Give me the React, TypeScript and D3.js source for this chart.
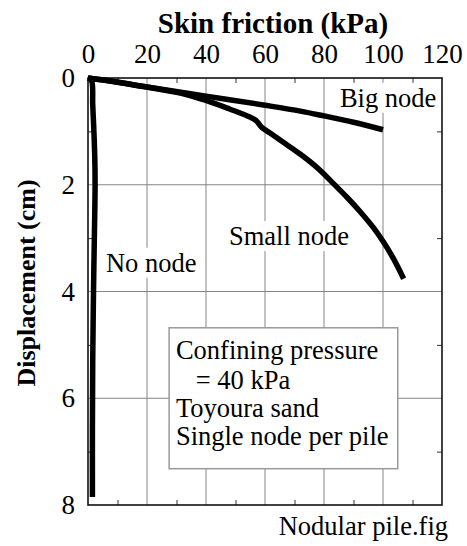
import React, { useEffect, useRef } from 'react';
import * as d3 from 'd3';

// skin friction (kPa) vs displacement (cm)
const noNodeFriction = [0, 1.2, 1.6, 2.0, 2.3, 2.4, 2.3, 2.0, 1.8, 1.6, 1.5, 1.5];
const noNodeDisp = [0, 0.05, 0.5, 1.0, 1.5, 2.0, 2.5, 3.5, 4.3, 5.3, 6.5, 7.85];

const bigNodeFriction = [0, 8, 20, 40, 60, 72, 80, 90, 100];
const bigNodeDisp = [0, 0.06, 0.17, 0.34, 0.51, 0.62, 0.71, 0.83, 0.97];

const smallNodeFriction = [0, 8, 20, 32, 40, 48, 54, 57, 59, 61.7, 67.4, 72, 76.4, 79.8, 83.2, 87.7, 92.2, 96.7, 100.1, 103.5, 107];
const smallNodeDisp = [0, 0.06, 0.17, 0.29, 0.42, 0.58, 0.71, 0.8, 0.93, 1.03, 1.25, 1.43, 1.62, 1.79, 1.98, 2.23, 2.5, 2.8, 3.07, 3.38, 3.76];

const xTicks = [0, 20, 40, 60, 80, 100, 120];
const xMinor = [10, 30, 50, 70, 90, 110];
const yTicks = [0, 2, 4, 6, 8];
const yMinor = [1, 3, 5, 7];

const curveLabels = ['Big node', 'Small node', 'No node'];
const curveLabelX = [85.4, 47.8, 6.1];
const curveLabelY = [0.54, 3.13, 3.63];

const noteLines = ['Confining pressure', '   = 40 kPa', 'Toyoura sand', 'Single node per pile'];

const FONT = '"Liberation Serif", "Times New Roman", serif';

const App = () => {
  const chartRef = useRef(null);

  useEffect(() => {
    const svg = d3.select(chartRef.current);
    svg.selectAll('*').remove();
    const width = 467;
    const height = 546;
    const margin = { top: 78, right: 25, bottom: 41, left: 88 };

    svg.attr('width', width).attr('height', height);

    const x = d3.scaleLinear().domain([0, 120]).range([margin.left, width - margin.right]);
    const y = d3.scaleLinear().domain([0, 8]).range([margin.top, height - margin.bottom]);

    // grid
    const grid = svg.append('g').attr('stroke', '#858585').attr('stroke-width', 1);
    xTicks.slice(1, -1).forEach(t => {
      grid.append('line').attr('x1', x(t)).attr('x2', x(t)).attr('y1', y(0)).attr('y2', y(8));
    });
    yTicks.slice(1, -1).forEach(t => {
      grid.append('line').attr('x1', x(0)).attr('x2', x(120)).attr('y1', y(t)).attr('y2', y(t));
    });

    // minor ticks on all four sides
    const minorTicks = (g, axis) => {
      g.call(axis);
      g.select('.domain').remove();
      g.selectAll('text').remove();
      g.selectAll('line').attr('stroke', '#333').attr('stroke-width', 1);
    };
    svg.append('g').attr('transform', `translate(0,${y(0)})`)
      .call(g => minorTicks(g, d3.axisTop(x).tickValues(xMinor).tickSize(-5)));
    svg.append('g').attr('transform', `translate(0,${y(8)})`)
      .call(g => minorTicks(g, d3.axisBottom(x).tickValues(xMinor).tickSize(-5)));
    svg.append('g').attr('transform', `translate(${x(0)},0)`)
      .call(g => minorTicks(g, d3.axisLeft(y).tickValues(yMinor).tickSize(-5)));
    svg.append('g').attr('transform', `translate(${x(120)},0)`)
      .call(g => minorTicks(g, d3.axisRight(y).tickValues(yMinor).tickSize(-5)));

    // tick labels
    const xAxis = svg.append('g').attr('transform', `translate(0,${y(0)})`)
      .call(d3.axisTop(x).tickValues(xTicks).tickSize(0).tickPadding(15));
    xAxis.select('.domain').remove();
    xAxis.selectAll('text').attr('font-family', FONT).attr('font-size', 27).attr('fill', '#000');

    const yAxis = svg.append('g').attr('transform', `translate(${x(0)},0)`)
      .call(d3.axisLeft(y).tickValues(yTicks).tickSize(0).tickPadding(13));
    yAxis.select('.domain').remove();
    yAxis.selectAll('text').attr('font-family', FONT).attr('font-size', 27).attr('fill', '#000');

    // frame
    svg.append('rect')
      .attr('x', x(0)).attr('y', y(0))
      .attr('width', x(120) - x(0)).attr('height', y(8) - y(0))
      .attr('fill', 'none').attr('stroke', '#111').attr('stroke-width', 1.6);

    // labels for the curves, on white
    curveLabels.forEach((label, i) => {
      const bg = svg.append('rect').attr('fill', '#fff');
      const t = svg.append('text')
        .attr('x', x(curveLabelX[i])).attr('y', y(curveLabelY[i]))
        .attr('font-family', FONT).attr('font-size', 26.5)
        .text(label);
      const b = t.node().getBBox();
      bg.attr('x', b.x - 2).attr('y', b.y).attr('width', b.width + 4).attr('height', b.height);
    });

    // note box
    svg.append('rect')
      .attr('x', x(27.5)).attr('y', y(4.68))
      .attr('width', x(105) - x(27.5)).attr('height', y(7.32) - y(4.68))
      .attr('fill', '#fff').attr('stroke', '#999').attr('stroke-width', 1.5);
    const note = svg.append('text')
      .attr('font-family', FONT).attr('font-size', 26.5)
      .attr('xml:space', 'preserve').style('white-space', 'pre');
    noteLines.forEach((line, i) => {
      note.append('tspan')
        .attr('x', x(29.8))
        .attr('y', y(5.26) + (i === 0 ? 0 : 30 + (i - 1) * 28.3))
        .text(line);
    });

    const line = d3.line()
      .curve(d3.curveCatmullRom)
      .x(d => x(d[0]))
      .y(d => y(d[1]));

    const series = [
      [noNodeFriction, noNodeDisp],
      [bigNodeFriction, bigNodeDisp],
      [smallNodeFriction, smallNodeDisp],
    ];
    series.forEach(([fx, dy]) => {
      svg.append('path')
        .datum(fx.map((v, i) => [v, dy[i]]))
        .attr('fill', 'none')
        .attr('stroke', '#000')
        .attr('stroke-width', 5.5)
        .attr('stroke-linejoin', 'round')
        .attr('d', line);
    });

    // titles
    svg.append('text')
      .attr('x', 273).attr('y', 33)
      .attr('text-anchor', 'middle')
      .attr('font-family', FONT).attr('font-size', 29).attr('font-weight', 'bold')
      .text('Skin friction (kPa)');
    svg.append('text')
      .attr('transform', 'translate(35,283) rotate(-90)')
      .attr('text-anchor', 'middle')
      .attr('font-family', FONT).attr('font-size', 26).attr('font-weight', 'bold')
      .text('Displacement (cm)');
    svg.append('text')
      .attr('x', 448).attr('y', 535)
      .attr('text-anchor', 'end')
      .attr('font-family', FONT).attr('font-size', 26.5)
      .text('Nodular pile.fig');
  }, []);

  return (
    <svg ref={chartRef} style={{ position: 'absolute', left: 0, top: 0 }}></svg>
  );
};

export default App;
